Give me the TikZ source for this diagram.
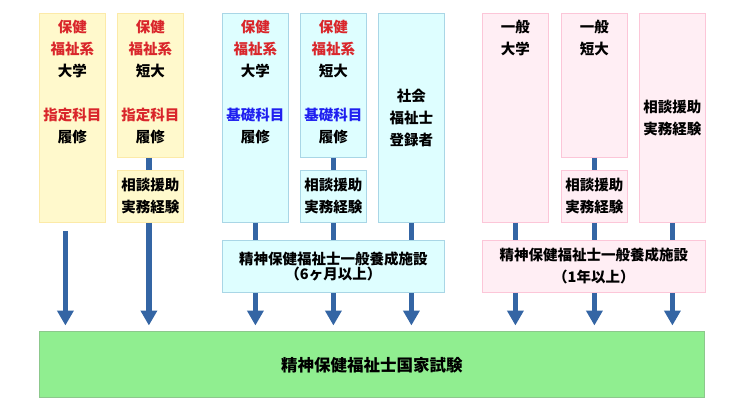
\documentclass[tikz,border=0pt]{standalone}
\usepackage{fontspec}
\setmainfont{Noto Sans CJK JP}
\usetikzlibrary{arrows.meta}
\definecolor{yfill}{HTML}{FFF9CC}
\definecolor{ydraw}{HTML}{FCEAA8}
\definecolor{bfill}{HTML}{DEFEFF}
\definecolor{bdraw}{HTML}{A9D6E6}
\definecolor{pfill}{HTML}{FFEEF4}
\definecolor{pdraw}{HTML}{FCC6D8}
\definecolor{gfill}{HTML}{90EE90}
\definecolor{gdraw}{HTML}{8CC88C}
\definecolor{conn}{HTML}{3465A4}
\definecolor{tred}{HTML}{D9262B}
\definecolor{tblue}{HTML}{1F1FF0}
\tikzset{
  x=1pt,y=-1pt,
  box/.style={draw, line width=0.8pt, inner sep=0pt, anchor=north west},
  ybox/.style={box, fill=yfill, draw=ydraw},
  bbox/.style={box, fill=bfill, draw=bdraw},
  pbox/.style={box, fill=pfill, draw=pdraw},
  txt/.style={inner sep=0pt, align=center, font=\bfseries\fontsize{14.5}{22}\selectfont},
  link/.style={draw=conn, line width=5.5pt},
  arr/.style={draw=conn, line width=5.5pt, -{Triangle[width=16pt,length=15pt]}, shorten >=5.5pt},
}
\newcommand{\rd}[1]{\textcolor{tred}{#1}}
\newcommand{\bl}[1]{\textcolor{tblue}{#1}}
\begin{document}
\begin{tikzpicture}
\useasboundingbox (0,0) rectangle (730,411);
% yellow
\node[ybox, minimum width=66pt, minimum height=209pt] (y1) at (39,13) {};
\node[ybox, minimum width=66pt, minimum height=144pt] (y2) at (117,13) {};
\node[ybox, minimum width=66pt, minimum height=52pt] (y2b) at (117,170) {};
% blue
\node[bbox, minimum width=66pt, minimum height=209pt] (c1) at (222,13) {};
\node[bbox, minimum width=66pt, minimum height=144pt] (c2) at (300,13) {};
\node[bbox, minimum width=66pt, minimum height=52pt] (c2b) at (300,170) {};
\node[bbox, minimum width=66pt, minimum height=209pt] (c3) at (378,13) {};
\node[bbox, minimum width=222pt, minimum height=52pt] (cf) at (222,240) {};
% pink
\node[pbox, minimum width=66pt, minimum height=209pt] (p1) at (482,13) {};
\node[pbox, minimum width=66pt, minimum height=144pt] (p2) at (561,13) {};
\node[pbox, minimum width=66pt, minimum height=52pt] (p2b) at (561,170) {};
\node[pbox, minimum width=66pt, minimum height=209pt] (p3) at (639,13) {};
\node[pbox, minimum width=223pt, minimum height=52pt] (pf) at (482,240) {};
% exam
\node[box, fill=gfill, draw=gdraw, minimum width=665pt, minimum height=66pt] (ex) at (39,331) {};
% texts
\node[txt, anchor=north] (ty1) at ([yshift=-7pt]y1.north) {\rd{保健}\\\rd{福祉系}\\大学\\[22pt]\rd{指定科目}\\履修};
\node[txt, anchor=north] (ty2) at ([yshift=-7pt]y2.north) {\rd{保健}\\\rd{福祉系}\\短大\\[22pt]\rd{指定科目}\\履修};
\node[txt] (ty2b) at (y2b.center) {相談援助\\実務経験};
\node[txt, anchor=north] (tc1) at ([yshift=-7pt]c1.north) {\rd{保健}\\\rd{福祉系}\\大学\\[22pt]\bl{基礎科目}\\履修};
\node[txt, anchor=north] (tc2) at ([yshift=-7pt]c2.north) {\rd{保健}\\\rd{福祉系}\\短大\\[22pt]\bl{基礎科目}\\履修};
\node[txt] (tc2b) at (c2b.center) {相談援助\\実務経験};
\node[txt] (tc3) at (c3.center) {社会\\福祉士\\登録者};
\node[txt, font=\bfseries\fontsize{14.5}{15.5}\selectfont] (tcf) at (cf.center) {精神保健福祉士一般養成施設\\（6ヶ月以上）};
\node[txt, anchor=north] (tp1) at ([yshift=-7pt]p1.north) {一般\\大学};
\node[txt, anchor=north] (tp2) at ([yshift=-7pt]p2.north) {一般\\短大};
\node[txt] (tp2b) at (p2b.center) {相談援助\\実務経験};
\node[txt] (tp3) at (p3.center) {相談援助\\実務経験};
\node[txt] (tpf) at (pf.center) {精神保健福祉士一般養成施設\\（1年以上）};
\node[txt, font=\bfseries\fontsize{16.5}{20}\selectfont] (tex) at ([yshift=-1pt]ex.center) {精神保健福祉士国家試験};
% links
\draw[link] ([xshift=-1.5pt]y2.south) -- ([xshift=-1.5pt]y2b.north);
\draw[link] (c2.south) -- (c2b.north);
\draw[link] (p2.south) -- (p2b.north);
\draw[link] (c1.south) -- (c1.south |- cf.north);
\draw[link] (c2b.south) -- (c2b.south |- cf.north);
\draw[link] (c3.south) -- (c3.south |- cf.north);
\draw[link] (p1.south) -- (p1.south |- pf.north);
\draw[link] (p2b.south) -- (p2b.south |- pf.north);
\draw[link] (p3.south) -- (p3.south |- pf.north);
% arrows
\draw[arr, shorten <=8pt] ([xshift=-7pt]y1.south) -- ([xshift=-7pt]y1.south |- ex.north);
\draw[arr] ([xshift=-1.5pt]y2b.south) -- ([xshift=-1.5pt]y2b.south |- ex.north);
\draw[arr] (c1.south |- cf.south) -- (c1.south |- ex.north);
\draw[arr] (c2.south |- cf.south) -- (c2.south |- ex.north);
\draw[arr] (c3.south |- cf.south) -- (c3.south |- ex.north);
\draw[arr] (p1.south |- pf.south) -- (p1.south |- ex.north);
\draw[arr] (p2.south |- pf.south) -- (p2.south |- ex.north);
\draw[arr] (p3.south |- pf.south) -- (p3.south |- ex.north);
\end{tikzpicture}
\end{document}
